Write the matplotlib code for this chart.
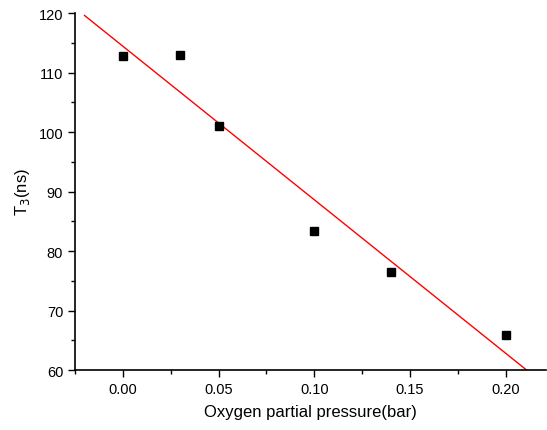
import numpy as np
import matplotlib
matplotlib.use("Agg")
import matplotlib.pyplot as plt
from matplotlib.ticker import MultipleLocator

plt.rcParams['font.family'] = ['Liberation Sans', 'DejaVu Sans']

pressure = [0.00, 0.03, 0.05, 0.10, 0.14, 0.20]
t3 = [112.7, 112.9, 101.0, 83.4, 76.5, 65.9]

# linear fit through the points
slope, intercept = np.polyfit(pressure, t3, 1)
fit_x = np.array([-0.02, 0.23])
fit_y = slope * fit_x + intercept

fig = plt.figure(figsize=(5.47, 4.31), dpi=100)
ax = fig.add_axes([0.137, 0.139, 0.861, 0.8285])

ax.plot(fit_x, fit_y, color='red', lw=1.0)
ax.plot(pressure, t3, 's', color='black', ms=6)

ax.set_xlim(-0.025, 0.221)
ax.set_ylim(60, 120)
ax.xaxis.set_major_locator(MultipleLocator(0.05))
ax.xaxis.set_minor_locator(MultipleLocator(0.025))
ax.yaxis.set_major_locator(MultipleLocator(10))
ax.yaxis.set_minor_locator(MultipleLocator(5))
ax.xaxis.set_major_formatter(plt.FormatStrFormatter('%.2f'))

ax.spines['top'].set_visible(False)
ax.spines['right'].set_visible(False)
ax.spines['left'].set_linewidth(1.2)
ax.spines['bottom'].set_linewidth(1.2)
ax.tick_params(which='major', direction='out', length=5, width=1, labelsize=10.5)
ax.tick_params(which='minor', direction='out', length=3, width=1)

ax.set_xlabel('Oxygen partial pressure(bar)', fontsize=12, labelpad=6)
ax.set_ylabel('T$_3$(ns)', fontsize=12, labelpad=5)

fig.savefig('out.png', dpi=100)
